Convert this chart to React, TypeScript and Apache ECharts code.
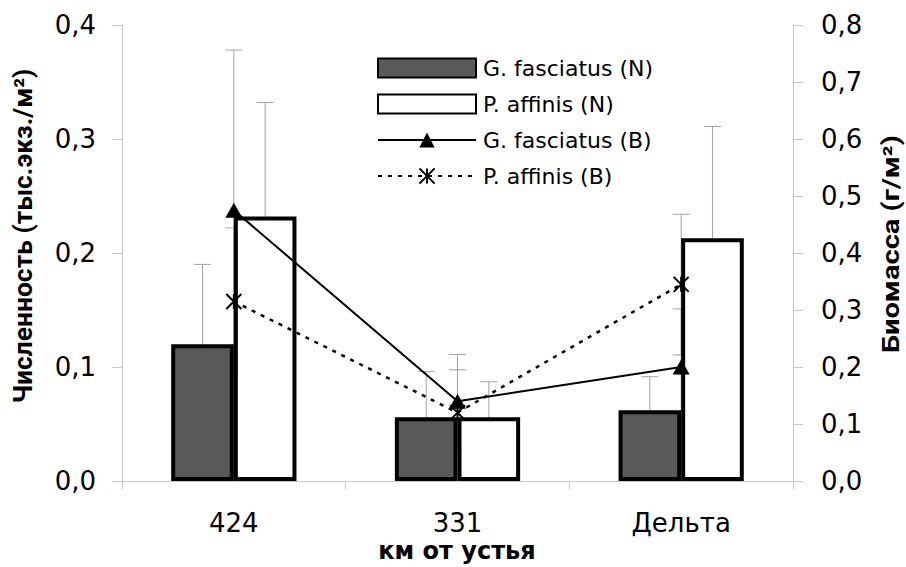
import React, { useEffect, useRef } from "react";
import * as echarts from "echarts";

const categories = ["424", "331", "Дельта"];

// Численность (left axis), тыс.экз./м²
const gFascN = [0.12, 0.056, 0.062];
const pAffN = [0.232, 0.056, 0.213];
const gFascNLow = [0.051, 0.02, 0.036];
const gFascNHigh = [0.19, 0.096, 0.0915];
const pAffNLow = [0.136, 0.027, 0.121];
const pAffNHigh = [0.332, 0.087, 0.311];

// Биомасса (right axis), г/м²
const gFascB = [0.475, 0.14, 0.2];
const pAffB = [0.315, 0.12, 0.345];
const gFascBLow = [0.195, 0.054, 0.101];
const gFascBHigh = [0.756, 0.222, 0.302];
const pAffBLow = [0.186, 0.049, 0.221];
const pAffBHigh = [0.444, 0.195, 0.468];

const seriesNames = ["G. fasciatus (N)", "P. affinis (N)", "G. fasciatus (B)", "P. affinis (B)"];
const leftName = "Численность (тыс.экз./м²)";
const rightName = "Биомасса (г/м²)";
const xName = "км от устья";

const BAR_FRACTION = 0.56;
const FONT = "DejaVu Sans";
const NAME_FONT = "Roboto";

function measure(text: string, font: string): number {
  try {
    const c = document.createElement("canvas").getContext("2d");
    if (!c) return 0;
    c.font = font;
    return c.measureText(text).width;
  } catch (e) {
    return 0;
  }
}

function fitScale(text: string, font: string, target: number): number {
  const w = measure(text, font);
  if (!w) return 1;
  return Math.max(0.6, Math.min(1.5, target / w));
}

function errRender(params: any, api: any) {
  const idx = api.value(0);
  const lo = api.value(1);
  const hi = api.value(2);
  const side = api.value(3);
  const band = api.size([1, 0])[0];
  const off = (side * band * BAR_FRACTION) / 4;
  const pLo = api.coord([idx, lo]);
  const pHi = api.coord([idx, hi]);
  const x = pLo[0] + off;
  const cap = 8.5;
  const style = { stroke: "#a3a3a3", lineWidth: 1, fill: "none" };
  return {
    type: "group",
    children: [
      { type: "line", shape: { x1: x, y1: pHi[1], x2: x, y2: pLo[1] }, style },
      { type: "line", shape: { x1: x - cap, y1: pHi[1], x2: x + cap, y2: pHi[1] }, style },
      { type: "line", shape: { x1: x - cap, y1: pLo[1], x2: x + cap, y2: pLo[1] }, style },
    ],
  };
}

const fmt = (v: number) => v.toFixed(1).replace(".", ",");

export default function App() {
  const ref = useRef<HTMLDivElement>(null);

  useEffect(() => {
    if (!ref.current) return;
    const chart = echarts.init(ref.current, null, { renderer: "svg" });

    const nameFont = `bold 25px ${NAME_FONT}`;
    const leftScale = fitScale(leftName, nameFont, 335);
    const rightScale = fitScale(rightName, nameFont, 237);

    const axisLineStyle = { color: "#c8c8c8", width: 1 };

    const errN = [
      ...categories.map((_, i) => [i, gFascNLow[i], gFascNHigh[i], -1]),
      ...categories.map((_, i) => [i, pAffNLow[i], pAffNHigh[i], 1]),
    ];
    const errB = [
      ...categories.map((_, i) => [i, gFascBLow[i], gFascBHigh[i], 0]),
      ...categories.map((_, i) => [i, pAffBLow[i], pAffBHigh[i], 0]),
    ];

    const option: any = {
      animation: false,
      backgroundColor: "#ffffff",
      grid: { left: 122, right: 113, top: 25, bottom: 86, containLabel: false },
      legend: {
        data: [
          { name: seriesNames[0], icon: "rect" },
          { name: seriesNames[1], icon: "rect" },
          { name: seriesNames[2] },
          { name: seriesNames[3] },
        ],
        orient: "vertical",
        left: 372,
        top: 52,
        itemWidth: 98,
        itemHeight: 19,
        itemGap: 14,
        textStyle: { fontFamily: FONT, fontSize: 22, color: "#000", lineHeight: 19, padding: [0, 0, 0, 2] },
      },
      xAxis: {
        type: "category",
        data: categories,
        axisLine: { show: true, lineStyle: axisLineStyle },
        axisTick: { show: true, length: 8, lineStyle: axisLineStyle },
        axisLabel: { fontFamily: FONT, fontSize: 26, color: "#000", margin: 29 },
        splitLine: { show: false },
      },
      yAxis: [
        {
          type: "value",
          min: 0,
          max: 0.4,
          interval: 0.1,
          position: "left",
          axisLine: { show: true, lineStyle: axisLineStyle },
          axisTick: { show: true, length: 10, lineStyle: axisLineStyle },
          axisLabel: { fontFamily: FONT, fontSize: 26, color: "#000", margin: 26, formatter: fmt },
          splitLine: { show: false },
        },
        {
          type: "value",
          min: 0,
          max: 0.8,
          interval: 0.1,
          position: "right",
          axisLine: { show: true, lineStyle: axisLineStyle },
          axisTick: { show: true, length: 10, lineStyle: axisLineStyle },
          axisLabel: { fontFamily: FONT, fontSize: 26, color: "#000", margin: 28, formatter: fmt },
          splitLine: { show: false },
        },
      ],
      series: [
        {
          name: seriesNames[0],
          type: "bar",
          yAxisIndex: 0,
          data: gFascN,
          barGap: "0%",
          barCategoryGap: `${Math.round((1 - BAR_FRACTION) * 100)}%`,
          itemStyle: { color: "#595959", borderColor: "#000", borderWidth: 4 },
        },
        {
          name: seriesNames[1],
          type: "bar",
          yAxisIndex: 0,
          data: pAffN,
          barGap: "0%",
          barCategoryGap: `${Math.round((1 - BAR_FRACTION) * 100)}%`,
          itemStyle: { color: "#ffffff", borderColor: "#000", borderWidth: 4 },
        },
        {
          name: "errN",
          type: "custom",
          yAxisIndex: 0,
          renderItem: errRender,
          data: errN,
          encode: { x: 0, y: [1, 2] },
          silent: true,
          clip: false,
        },
        {
          name: "errB",
          type: "custom",
          yAxisIndex: 1,
          renderItem: errRender,
          data: errB,
          encode: { x: 0, y: [1, 2] },
          silent: true,
          clip: false,
        },
        {
          name: seriesNames[2],
          type: "line",
          yAxisIndex: 1,
          data: gFascB,
          symbol: "triangle",
          symbolSize: [17, 15],
          lineStyle: { color: "#000", width: 2 },
          itemStyle: { color: "#000" },
        },
        {
          name: seriesNames[3],
          type: "line",
          yAxisIndex: 1,
          data: pAffB,
          symbol: "path://M0,0L10,10M10,0L0,10M5,0L5,10",
          symbolSize: 15,
          lineStyle: { color: "#000", width: 2.5, type: [4, 6] },
          itemStyle: { color: "transparent", borderColor: "#000", borderWidth: 2 },
        },
      ],
      graphic: [
        {
          type: "text",
          x: 23,
          y: 236,
          rotation: Math.PI / 2,
          scaleX: leftScale,
          style: {
            text: leftName,
            fontFamily: NAME_FONT,
            fontWeight: "bold",
            fontSize: 25,
            fill: "#000",
            textAlign: "center",
            textVerticalAlign: "middle",
            align: "center",
            verticalAlign: "middle",
          },
        },
        {
          type: "text",
          x: 891,
          y: 244,
          rotation: Math.PI / 2,
          scaleX: rightScale,
          style: {
            text: rightName,
            fontFamily: NAME_FONT,
            fontWeight: "bold",
            fontSize: 23,
            fill: "#000",
            textAlign: "center",
            textVerticalAlign: "middle",
            align: "center",
            verticalAlign: "middle",
          },
        },
        {
          type: "text",
          x: 457,
          y: 551,
          style: {
            text: xName,
            fontFamily: FONT,
            fontWeight: "bold",
            fontSize: 24,
            fill: "#000",
            textAlign: "center",
            textVerticalAlign: "middle",
            align: "center",
            verticalAlign: "middle",
          },
        },
      ],
    };

    chart.setOption(option);
    return () => {
      chart.dispose();
    };
  }, []);

  return (
    <div
      ref={ref}
      style={{ position: "absolute", left: 0, top: 0, width: 906, height: 567 }}
    />
  );
}
